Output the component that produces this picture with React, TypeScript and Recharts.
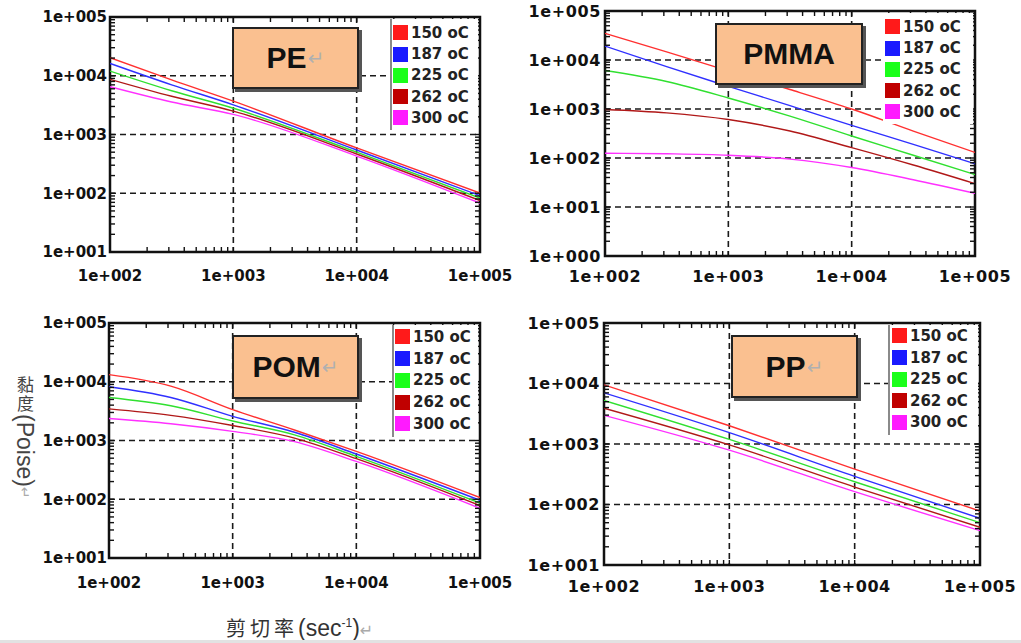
import React from 'react';
import { LineChart, Line, XAxis, YAxis, CartesianGrid, ReferenceArea } from 'recharts';

// series names and colours, shared by the four panels
const TEMPS = ['150 oC', '187 oC', '225 oC', '262 oC', '300 oC'];
const LINE_COLORS = ['#ff3030', '#3030ff', '#30e030', '#b01818', '#ff30ff'];
const KEY_COLORS = ['#ff1a1a', '#1a1aff', '#1aff1a', '#c00000', '#ff1aff'];

const EXP_LABELS = ['1e+000', '1e+001', '1e+002', '1e+003', '1e+004', '1e+005'];
const X_TICKS = [100, 1000, 10000, 100000];
const Y_TICKS = [10, 100, 1000, 10000, 100000];
const Y_TICKS_PMMA = [1, 10, 100, 1000, 10000, 100000];

// PE
const PE_RATE = [100, 316, 1000, 10000, 100000];
const PE_150 = [20300, 8500, 3700, 590, 101];
const PE_187 = [16200, 7000, 3200, 545, 91];
const PE_225 = [12000, 5550, 2800, 500, 83];
const PE_262 = [8700, 4470, 2500, 466, 75];
const PE_300 = [6500, 3570, 2200, 430, 68];

// PMMA
const PMMA_RATE = [100, 316, 1000, 3162, 10000, 31623, 100000];
const PMMA_150 = [35000, 14700, 6000, 2500, 1000, 355, 130];
const PMMA_187 = [19200, 7300, 2900, 1170, 462, 190, 76];
const PMMA_225 = [6100, 3640, 1680, 715, 281, 114, 46];
const PMMA_262 = [980, 835, 611, 355, 163, 72, 30];
const PMMA_300 = [125, 122, 114, 95, 64, 36, 19];

// POM
const POM_RATE = [100, 316, 1000, 3162, 10000, 100000];
const POM_150 = [13200, 8400, 3350, 1510, 655, 107];
const POM_187 = [8200, 5400, 2580, 1380, 589, 96];
const POM_225 = [5400, 3900, 2150, 1250, 537, 86];
const POM_262 = [3450, 2680, 1800, 1100, 490, 78];
const POM_300 = [2370, 1930, 1430, 955, 440, 70];

// PP
const PP_RATE = [100, 1000, 10000, 100000];
const PP_150 = [9500, 2000, 385, 78];
const PP_187 = [7000, 1540, 292, 59];
const PP_225 = [5250, 1190, 238, 50];
const PP_262 = [3900, 965, 194, 42];
const PP_300 = [2980, 790, 163, 37];

const expLabel = (v: number) => EXP_LABELS[Math.round(Math.log10(v))];

// 1..9 per decade, for the small inner ticks of the frame
const minorTicks = (lo: number, hi: number) => {
  const out: number[] = [];
  for (let d = lo; d < hi; d *= 10) for (let k = 1; k <= 9; k++) out.push(d * k);
  out.push(hi);
  return out;
};

type PanelProps = {
  title: string;
  arrow: boolean;
  rate: number[];
  series: number[][];
  yDomain: [number, number];
  yTicks: number[];
  left: number;
  top: number;
  width: number;
  height: number;
  plotTop: number;
  plotRight: number;
  yAxisWidth: number;
  xAxisHeight: number;
  xTickMargin: number;
  yTickMargin: number;
  fontSize: number;
  spacing: number;
  box: { left: number; top: number; width: number; height: number };
  legend: { line: number; key: number; first: number; row: number; border: boolean };
};

const TICK_LEN = 5;

const Panel = (p: PanelProps) => {
  const rows = p.rate.map((x, i) => {
    const r: Record<string, number> = { x };
    p.series.forEach((s, k) => (r['s' + k] = s[i]));
    return r;
  });
  const textStyle = {
    fill: '#111',
    fontSize: p.fontSize,
    fontWeight: 700,
    fontFamily: 'DejaVu Sans',
    letterSpacing: p.spacing,
  };
  const plotRightX = p.width - p.plotRight;
  const plotTopY = p.plotTop;

  const XTick = (t: any) => {
    const x = t.x;
    const bottom = t.y - p.xTickMargin;
    const v = t.payload.value;
    return (
      <g>
        <line x1={x} x2={x} y1={bottom} y2={bottom - TICK_LEN} stroke="#111" strokeWidth={1.4} />
        <line x1={x} x2={x} y1={plotTopY} y2={plotTopY + TICK_LEN} stroke="#111" strokeWidth={1.4} />
        {X_TICKS.includes(v) && (
          <text x={x} y={t.y} dy="0.71em" textAnchor="middle" {...textStyle}>
            {expLabel(v)}
          </text>
        )}
      </g>
    );
  };

  const YTick = (t: any) => {
    const y = t.y;
    const leftX = t.x + p.yTickMargin;
    const v = t.payload.value;
    return (
      <g>
        <line x1={leftX} x2={leftX + TICK_LEN} y1={y} y2={y} stroke="#111" strokeWidth={1.4} />
        <line x1={plotRightX} x2={plotRightX - TICK_LEN} y1={y} y2={y} stroke="#111" strokeWidth={1.4} />
        {p.yTicks.includes(v) && (
          <text x={t.x} y={y} dy="0.36em" textAnchor="end" {...textStyle}>
            {expLabel(v)}
          </text>
        )}
      </g>
    );
  };

  const plotTopPage = p.top + p.plotTop;
  const plotRightPage = p.left + plotRightX;

  return (
    <>
      <div style={{ position: 'absolute', left: p.left, top: p.top, width: p.width, height: p.height }}>
        <LineChart
          width={p.width}
          height={p.height}
          data={rows}
          margin={{ top: p.plotTop, right: p.plotRight, left: 0, bottom: 0 }}
        >
          <CartesianGrid
            stroke="#1a1a1a"
            strokeWidth={1.6}
            strokeDasharray="6 4"
            verticalValues={X_TICKS.slice(1, -1)}
            horizontalValues={p.yTicks.slice(1, -1)}
          />
          <XAxis
            dataKey="x"
            type="number"
            scale="log"
            domain={[100, 100000]}
            allowDataOverflow
            ticks={minorTicks(100, 100000)}
            interval={0}
            height={p.xAxisHeight}
            tickSize={0}
            tickLine={false}
            tickMargin={p.xTickMargin}
            axisLine={false}
            tick={XTick}
          />
          <YAxis
            type="number"
            scale="log"
            domain={p.yDomain}
            allowDataOverflow
            ticks={minorTicks(p.yDomain[0], p.yDomain[1])}
            interval={0}
            width={p.yAxisWidth}
            tickSize={0}
            tickLine={false}
            tickMargin={p.yTickMargin}
            axisLine={false}
            tick={YTick}
          />
          {p.series.map((_, k) => (
            <Line
              key={k}
              type="monotone"
              dataKey={'s' + k}
              name={TEMPS[k]}
              stroke={LINE_COLORS[k]}
              strokeWidth={1.4}
              dot={false}
              isAnimationActive={false}
            />
          ))}
          {/* plot frame */}
          <ReferenceArea
            x1={100}
            x2={100000}
            y1={p.yDomain[0]}
            y2={p.yDomain[1]}
            fill="none"
            fillOpacity={0}
            stroke="#111"
            strokeWidth={2.5}
            ifOverflow="visible"
          />
        </LineChart>
      </div>

      {/* legend */}
      <div
        style={{
          position: 'absolute',
          left: p.legend.line,
          top: plotTopPage + 2,
          width: plotRightPage - p.legend.line - 2,
          paddingTop: p.legend.first - plotTopPage - 2 - p.legend.row / 2,
          paddingBottom: 2,
          background: '#fff',
          borderLeft: p.legend.border ? '2px solid #8a8a8a' : 'none',
          boxSizing: 'border-box',
        }}
      >
        {TEMPS.map((t, k) => (
          <div key={t} style={{ display: 'flex', alignItems: 'center', height: p.legend.row }}>
            <div
              style={{
                width: 15,
                height: 15,
                marginLeft: p.legend.key - p.legend.line - (p.legend.border ? 2 : 0),
                background: KEY_COLORS[k],
              }}
            />
            <span
              style={{
                marginLeft: 3,
                fontFamily: 'DejaVu Sans',
                fontWeight: 700,
                fontSize: 15,
                color: '#222',
                whiteSpace: 'nowrap',
              }}
            >
              {t}
            </span>
          </div>
        ))}
      </div>

      {/* title box */}
      <div
        style={{
          position: 'absolute',
          left: p.box.left,
          top: p.box.top,
          width: p.box.width,
          height: p.box.height,
          background: '#fac090',
          border: '2px solid #222',
          boxShadow: '3px 3px 0 #555',
          boxSizing: 'border-box',
          display: 'flex',
          alignItems: 'center',
          justifyContent: 'center',
        }}
      >
        <span style={{ fontFamily: 'Liberation Sans', fontWeight: 700, fontSize: 30, color: '#111' }}>{p.title}</span>
        {p.arrow && (
          <span style={{ fontFamily: 'DejaVu Sans', fontSize: 20, color: '#b0b0b0', marginLeft: 1 }}>↵</span>
        )}
      </div>
    </>
  );
};

const App = () => {
  return (
    <div
      style={{
        position: 'absolute',
        left: 0,
        top: 0,
        width: 1021,
        height: 643,
        background: '#fff',
        overflow: 'hidden',
      }}
    >
      <Panel
        title="PE"
        arrow
        rate={PE_RATE}
        series={[PE_150, PE_187, PE_225, PE_262, PE_300]}
        yDomain={[10, 100000]}
        yTicks={Y_TICKS}
        left={0}
        top={0}
        width={520}
        height={292}
        plotTop={17}
        plotRight={40}
        yAxisWidth={110}
        xAxisHeight={40}
        xTickMargin={18}
        yTickMargin={3}
        fontSize={15}
        spacing={0}
        box={{ left: 232, top: 27, width: 127, height: 62 }}
        legend={{ line: 390, key: 393, first: 33, row: 21.2, border: true }}
      />
      <Panel
        title="PMMA"
        arrow={false}
        rate={PMMA_RATE}
        series={[PMMA_150, PMMA_187, PMMA_225, PMMA_262, PMMA_300]}
        yDomain={[1, 100000]}
        yTicks={Y_TICKS_PMMA}
        left={510}
        top={0}
        width={511}
        height={292}
        plotTop={11}
        plotRight={46}
        yAxisWidth={95}
        xAxisHeight={36}
        xTickMargin={15}
        yTickMargin={4}
        fontSize={16}
        spacing={0.6}
        box={{ left: 715, top: 23, width: 148, height: 62 }}
        legend={{ line: 883, key: 885, first: 27, row: 21.2, border: false }}
      />
      <Panel
        title="POM"
        arrow
        rate={POM_RATE}
        series={[POM_150, POM_187, POM_225, POM_262, POM_300]}
        yDomain={[10, 100000]}
        yTicks={Y_TICKS}
        left={0}
        top={300}
        width={520}
        height={304}
        plotTop={23}
        plotRight={40}
        yAxisWidth={109}
        xAxisHeight={46}
        xTickMargin={19}
        yTickMargin={2}
        fontSize={15}
        spacing={0}
        box={{ left: 232, top: 335, width: 127, height: 64 }}
        legend={{ line: 392, key: 395, first: 337, row: 21.7, border: true }}
      />
      <Panel
        title="PP"
        arrow
        rate={PP_RATE}
        series={[PP_150, PP_187, PP_225, PP_262, PP_300]}
        yDomain={[10, 100000]}
        yTicks={Y_TICKS}
        left={510}
        top={300}
        width={511}
        height={304}
        plotTop={23}
        plotRight={41}
        yAxisWidth={94}
        xAxisHeight={39}
        xTickMargin={16}
        yTickMargin={4}
        fontSize={16}
        spacing={0.6}
        box={{ left: 731, top: 335, width: 127, height: 63 }}
        legend={{ line: 888, key: 892, first: 336, row: 21.6, border: true }}
      />

      {/* y axis title */}
      <div
        style={{
          position: 'absolute',
          left: 12,
          top: 376,
          writingMode: 'vertical-rl',
          color: '#444',
          lineHeight: '26px',
          whiteSpace: 'nowrap',
        }}
      >
        <span style={{ fontFamily: 'Noto Sans CJK TC', fontSize: 17, letterSpacing: 2 }}>黏度</span>
        <span style={{ fontFamily: 'Liberation Sans', fontSize: 23 }}>(Poise)</span>
        <span style={{ fontFamily: 'DejaVu Sans', fontSize: 14, color: '#aaa' }}>↵</span>
      </div>

      {/* x axis title */}
      <div
        style={{
          position: 'absolute',
          left: 226,
          top: 610,
          color: '#333',
          lineHeight: '26px',
          whiteSpace: 'nowrap',
        }}
      >
        <span
          style={{
            fontFamily: 'Noto Sans CJK TC',
            fontSize: 20,
            letterSpacing: 4,
            borderBottom: '2px solid #5b86d6',
          }}
        >
          剪切率
        </span>
        <span style={{ fontFamily: 'Liberation Sans', fontSize: 23 }}>
          (sec<sup style={{ fontSize: 12 }}>-1</sup>)
        </span>
        <span style={{ fontFamily: 'DejaVu Sans', fontSize: 16, color: '#aaa' }}>↵</span>
      </div>

      <div style={{ position: 'absolute', left: 0, top: 640, width: 1021, height: 3, background: '#e2e2e2' }} />
    </div>
  );
};

export default App;
